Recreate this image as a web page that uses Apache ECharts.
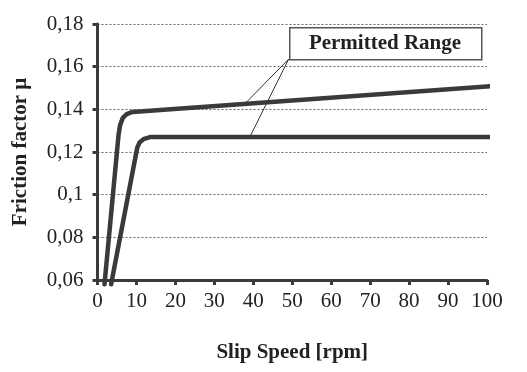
<!DOCTYPE html>
<html>
<head>
<meta charset="utf-8">
<script src="https://cdn.jsdelivr.net/npm/echarts@6/dist/echarts.min.js"></script>
<style>
html,body{margin:0;padding:0;background:#fff;}
#chart{width:527px;height:372px;}
</style>
</head>
<body>
<div id="chart"></div>
<script>
// Data
var xTickValues = [0, 10, 20, 30, 40, 50, 60, 70, 80, 90, 100];
var yTickLabels = ['0,06', '0,08', '0,1', '0,12', '0,14', '0,16', '0,18'];
var upperX = [1.8, 5.4, 5.8, 6.5, 7.5, 9.0, 102.5];
var upperY = [0.058, 0.128, 0.1325, 0.136, 0.1378, 0.1388, 0.151];
var lowerX = [3.5, 10.2, 10.8, 11.8, 13.5, 102.5];
var lowerY = [0.058, 0.122, 0.1245, 0.126, 0.127, 0.127];
var annotationText = 'Permitted Range';
var leaderFrom = [49.1, 0.1636];
var leaderToUpper = [37.3, 0.1416];
var leaderToLower = [39.1, 0.127];

function zip(xs, ys) { return xs.map(function (x, i) { return [x, ys[i]]; }); }

var serif = '"Liberation Serif", "Times New Roman", serif';
var dark = '#3a3a3a';

var chart = echarts.init(document.getElementById('chart'), null, {renderer: 'canvas'});
chart.setOption({
  animation: false,
  backgroundColor: '#fff',
  grid: {left: 97.5, right: 40, top: 24, bottom: 92, containLabel: false, outerBoundsMode: 'none'},
  xAxis: {
    type: 'value', min: 0, max: 100, interval: 10,
    name: 'Slip Speed [rpm]', nameLocation: 'middle', nameGap: 62,
    nameTextStyle: {fontFamily: serif, fontSize: 21, fontWeight: 'bold', color: '#222'},
    axisLine: {show: true, lineStyle: {color: dark, width: 3}},
    axisTick: {show: true, length: 5, lineStyle: {color: dark, width: 3}},
    axisLabel: {fontFamily: serif, fontSize: 21, color: '#222', margin: 11},
    splitLine: {show: false}
  },
  yAxis: {
    type: 'value', min: 0.06, max: 0.18, interval: 0.02,
    name: 'Friction factor μ', nameLocation: 'middle', nameGap: 66, nameRotate: 90,
    nameTextStyle: {fontFamily: serif, fontSize: 21, fontWeight: 'bold', color: '#222'},
    axisLine: {show: true, lineStyle: {color: dark, width: 3}},
    axisTick: {show: true, length: 5, lineStyle: {color: dark, width: 3}},
    axisLabel: {
      fontFamily: serif, fontSize: 21, color: '#222', margin: 14,
      formatter: function (v, i) { return yTickLabels[i]; }
    },
    splitLine: {show: true, lineStyle: {color: '#666', width: 1, type: [2, 2]}}
  },
  series: [
    {
      type: 'line', data: zip(upperX, upperY), showSymbol: false, symbol: 'none',
      clip: false, lineStyle: {color: dark, width: 4.5, cap: 'round', join: 'round'},
      markLine: {
        silent: true, symbol: ['none', 'none'], animation: false,
        label: {show: false},
        lineStyle: {color: '#333', width: 1, type: 'solid'},
        data: [
          [{coord: leaderFrom}, {coord: leaderToUpper}],
          [{coord: leaderFrom}, {coord: leaderToLower}]
        ]
      }
    },
    {
      type: 'line', data: zip(lowerX, lowerY), showSymbol: false, symbol: 'none',
      clip: false, lineStyle: {color: dark, width: 4.5, cap: 'round', join: 'round'}
    }
  ],
  graphic: [
    {
      type: 'rect', left: 289, top: 27, z: 100,
      shape: {width: 192, height: 32},
      style: {fill: '#fff', stroke: '#555', lineWidth: 1.5}
    },
    {
      type: 'text', z: 101, x: 385, y: 44,
      style: {text: annotationText, fontFamily: serif, fontSize: 21, fontWeight: 'bold', fill: '#222', align: 'center', verticalAlign: 'middle'}
    }
  ]
});
</script>
</body>
</html>
